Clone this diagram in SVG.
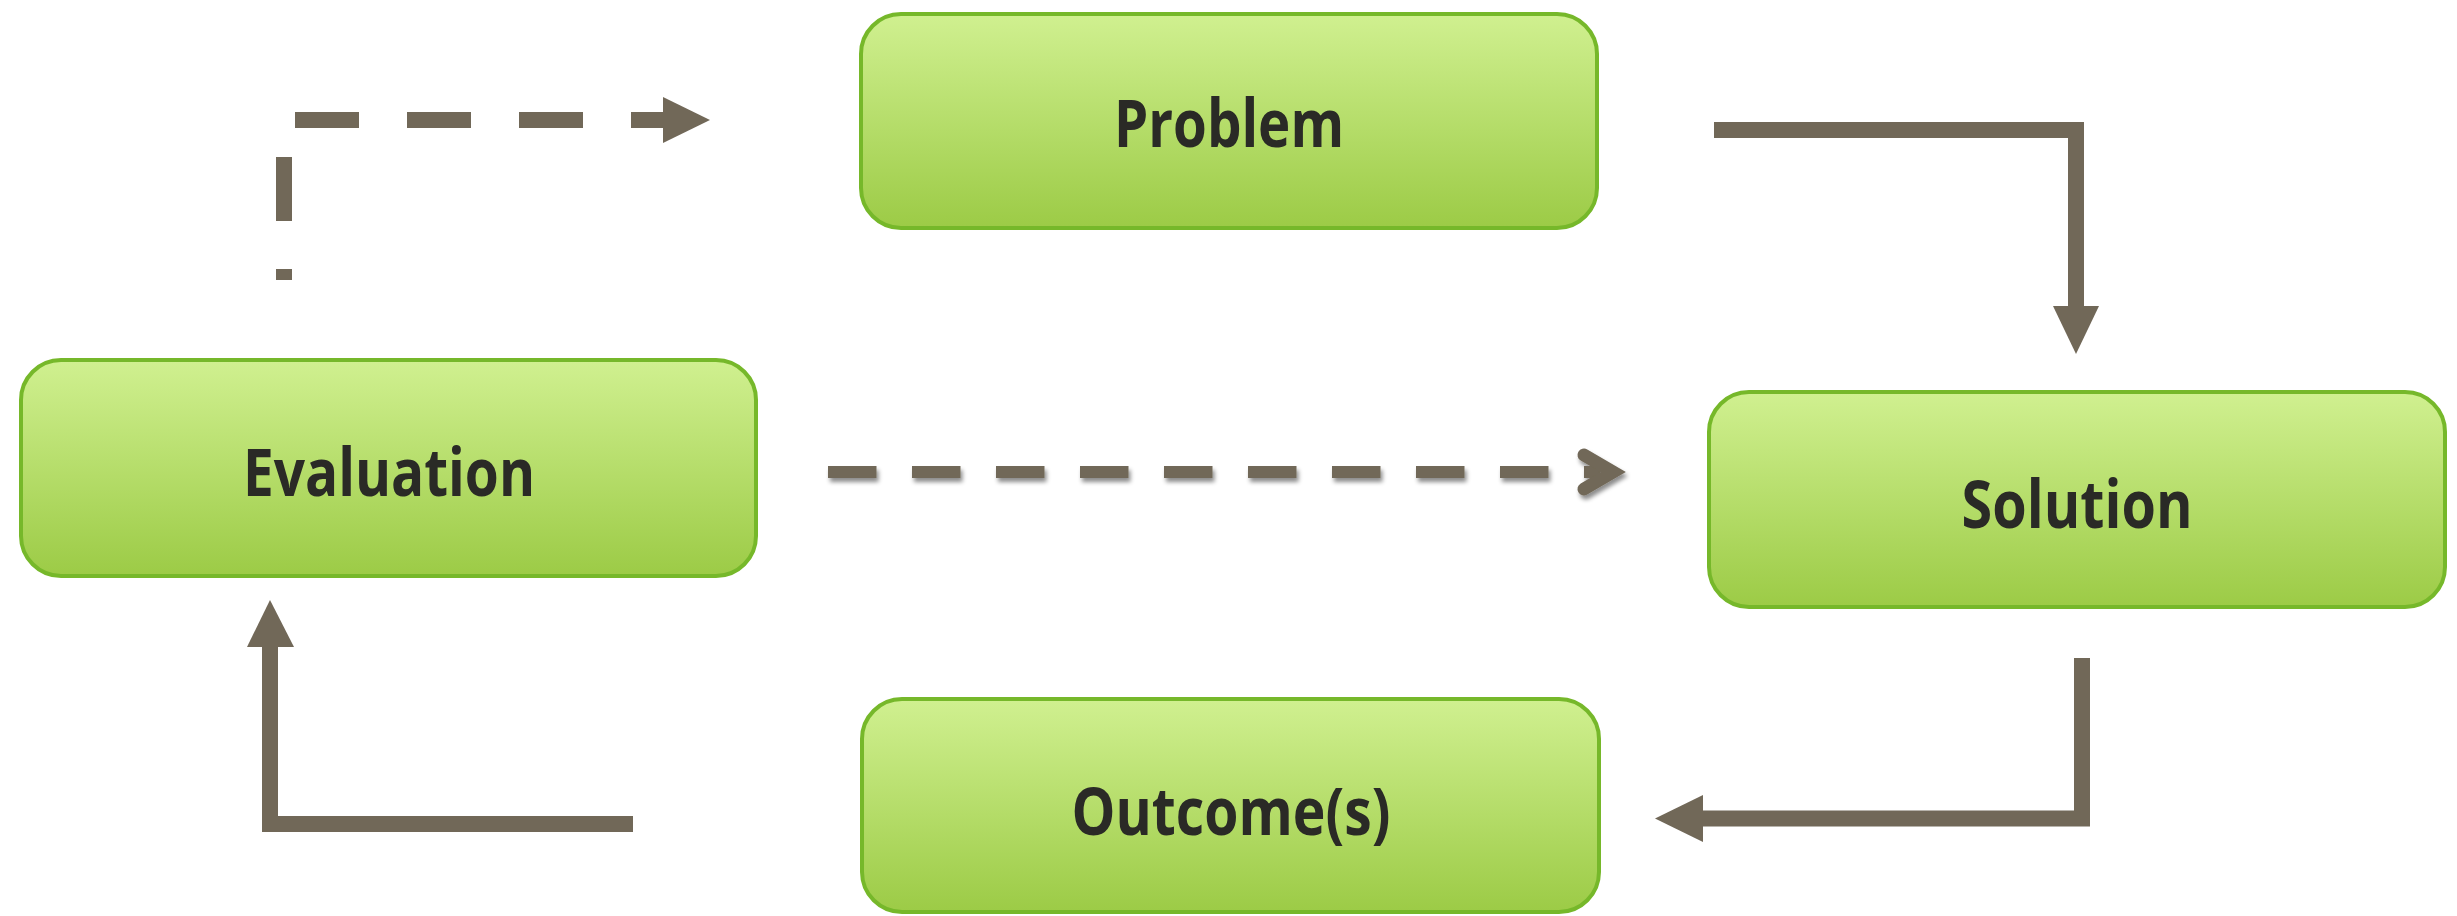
<svg xmlns="http://www.w3.org/2000/svg" width="2457" height="916" viewBox="0 0 2457 916">
  <defs>
    <linearGradient id="boxFill" x1="0" y1="0" x2="0" y2="1">
      <stop offset="0" stop-color="#d0f090"/>
      <stop offset="1" stop-color="#9ccb46"/>
    </linearGradient>
    <filter id="softShadow" x="-5%" y="-50%" width="110%" height="200%">
      <feDropShadow dx="2" dy="4" stdDeviation="2" flood-color="#000" flood-opacity="0.45"/>
    </filter>
    <style>
      .box { fill: url(#boxFill); stroke: #76b82a; stroke-width: 4; }
      .label { font-family: "Open Sans", "Noto Sans", "Liberation Sans", sans-serif; font-weight: 700; font-size: 67px; fill: #2a2a26; text-anchor: middle; }
      .wire { fill: none; stroke: #716858; stroke-width: 16; stroke-linecap: butt; stroke-linejoin: miter; }
      .head { fill: #716858; }
    </style>
  </defs>

  <g id="connectors">
    <!-- Evaluation back to Problem: dashed elbow -->
    <path class="wire" d="M284 280 V120 H663" stroke-dasharray="64 48" stroke-dashoffset="53"/>
    <polygon class="head" points="663,97 710,120 663,143"/>

    <!-- Problem to Solution -->
    <path class="wire" d="M1714 130 H2076 V306"/>
    <polygon class="head" points="2053,306 2099,306 2076,354"/>

    <!-- Solution to Outcome(s) -->
    <path class="wire" d="M2082 658 V818.5 H1703"/>
    <polygon class="head" points="1703,795 1703,842 1655,818.5"/>

    <!-- Outcome(s) to Evaluation -->
    <path class="wire" d="M633 824 H270 V647"/>
    <polygon class="head" points="247,647 294,647 270,600"/>

    <!-- Evaluation to Solution: short dashes with open chevron -->
    <g filter="url(#softShadow)">
      <path d="M828 472 H1600" fill="none" stroke="#716858" stroke-width="12" stroke-dasharray="48.5 35.5"/>
      <polyline points="1584,455 1613,472 1584,489" fill="none" stroke="#716858" stroke-width="13" stroke-linecap="round" stroke-linejoin="miter"/>
    </g>
  </g>

  <g id="problem">
    <rect class="box" x="861" y="14" width="736" height="214" rx="40" ry="40"/>
    <text class="label" x="1229" y="147" textLength="230" lengthAdjust="spacingAndGlyphs">Problem</text>
  </g>

  <g id="evaluation">
    <rect class="box" x="21" y="360" width="735" height="216" rx="40" ry="40"/>
    <text class="label" x="389" y="496" textLength="292" lengthAdjust="spacingAndGlyphs">Evaluation</text>
  </g>

  <g id="solution">
    <rect class="box" x="1709" y="392" width="736" height="215" rx="40" ry="40"/>
    <text class="label" x="2077" y="528" textLength="231" lengthAdjust="spacingAndGlyphs">Solution</text>
  </g>

  <g id="outcomes">
    <rect class="box" x="862" y="699" width="737" height="213" rx="40" ry="40"/>
    <text class="label" x="1231" y="835" textLength="319" lengthAdjust="spacingAndGlyphs">Outcome(s)</text>
  </g>
</svg>
